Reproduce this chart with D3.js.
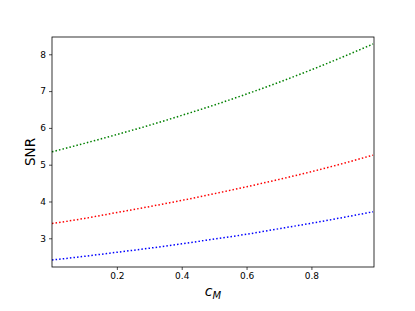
<!DOCTYPE html>
<html>
<head>
<meta charset="utf-8">
<script src="https://cdn.jsdelivr.net/npm/d3@7"></script>
<style>
  body { margin: 0; background: #fff; }
  text { font-family: "DejaVu Sans", sans-serif; }
</style>
</head>
<body>
<svg id="chart" width="415" height="311"></svg>
<script>
// values
var cValues   = [0.0, 0.1, 0.2, 0.3, 0.4, 0.5, 0.6, 0.7, 0.8, 0.9, 0.99];
var snrGreen  = [5.35, 5.58, 5.82, 6.07, 6.34, 6.62, 6.92, 7.24, 7.58, 7.94, 8.28];
var snrRed    = [3.40, 3.54, 3.70, 3.86, 4.03, 4.21, 4.40, 4.60, 4.81, 5.04, 5.26];
var snrBlue   = [2.41, 2.51, 2.62, 2.73, 2.85, 2.98, 3.11, 3.26, 3.41, 3.57, 3.72];
var xTicks = [0.2, 0.4, 0.6, 0.8];
var yTicks = [3, 4, 5, 6, 7, 8];

var svg = d3.select("#chart");

// plot area
var plotLeft = 52, plotRight = 374, plotTop = 37, plotBottom = 267;

var x = d3.scaleLinear()
    .domain([0.0, 0.993])
    .range([plotLeft, plotRight]);
var y = d3.scaleLinear()
    .domain([2.22, 8.47])
    .range([plotBottom, plotTop]);

var series = [
    {vals: snrGreen, color: "#008000"},
    {vals: snrRed,   color: "#ff0000"},
    {vals: snrBlue,  color: "#0000ff"}
];

var line = d3.line()
    .x(function(d){ return x(d[0]); })
    .y(function(d){ return y(d[1]); })
    .curve(d3.curveMonotoneX);

svg.append("g")
    .selectAll("path")
    .data(series)
    .enter()
    .append("path")
    .attr("d", function(s){
        return line(cValues.map(function(c, i){ return [c, s.vals[i]]; }));
    })
    .attr("fill", "none")
    .attr("stroke", function(s){ return s.color; })
    .attr("stroke-width", 1.5)
    .attr("stroke-dasharray", "1.5,2.1");

// axes
var xAxis = d3.axisBottom(x)
    .tickValues(xTicks)
    .tickSize(3)
    .tickPadding(3)
    .tickFormat(d3.format(".1f"));
var yAxis = d3.axisLeft(y)
    .tickValues(yTicks)
    .tickSize(3)
    .tickPadding(3)
    .tickFormat(d3.format("d"));

var gx = svg.append("g")
    .attr("transform", "translate(0," + plotBottom + ")")
    .call(xAxis);
var gy = svg.append("g")
    .attr("transform", "translate(" + plotLeft + ",0)")
    .call(yAxis);

[gx, gy].forEach(function(g){
    g.select(".domain").remove();
    g.selectAll("line").attr("stroke", "#000").attr("stroke-width", 0.7);
    g.selectAll("text")
        .attr("font-family", "DejaVu Sans, sans-serif")
        .attr("font-size", 9)
        .attr("fill", "#000");
});

// frame
svg.append("rect")
    .attr("x", plotLeft)
    .attr("y", plotTop)
    .attr("width", plotRight - plotLeft)
    .attr("height", plotBottom - plotTop)
    .attr("fill", "none")
    .attr("stroke", "#000")
    .attr("stroke-width", 0.8);

// labels
svg.append("text")
    .attr("transform", "translate(35," + ((plotTop + plotBottom) / 2) + ") rotate(-90)")
    .attr("text-anchor", "middle")
    .attr("font-size", 13.5)
    .text("SNR");

var xl = svg.append("text")
    .attr("x", (plotLeft + plotRight) / 2)
    .attr("y", 296)
    .attr("text-anchor", "middle")
    .attr("font-size", 14)
    .attr("font-style", "italic");
xl.append("tspan").text("c");
xl.append("tspan")
    .attr("font-size", 10)
    .attr("dy", 3)
    .text("M");
</script>
</body>
</html>
